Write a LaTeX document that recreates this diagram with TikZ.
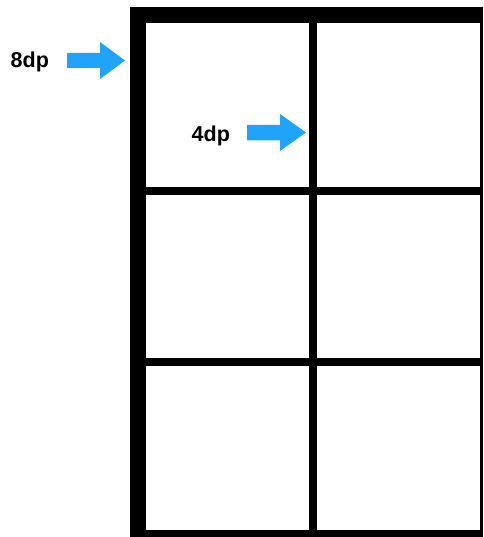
\documentclass[tikz,border=0pt]{standalone}
\usepackage{fontspec}
\setmainfont{Liberation Sans}
\definecolor{arrowblue}{HTML}{20A4FA}
\tikzset{
  cell/.style={fill=white, draw=none, inner sep=0pt, minimum width=163pt, minimum height=163.5pt, anchor=north west},
  lbl/.style={font=\fontsize{21.5}{24}\selectfont\bfseries, inner sep=0pt, anchor=base west},
  fatarrow/.style={fill=arrowblue, draw=none}
}
\begin{document}
\begin{tikzpicture}[x=1pt,y=-1pt]
\useasboundingbox (0,0) rectangle (483,537);
% black grid background (clipped on right and bottom)
\fill[black] (130,7) rectangle (483,537);
% cells
\node[cell] (c11) at (146,23) {};
\node[cell] (c12) at (317,23) {};
\node[cell] (c21) at (146,194.5) {};
\node[cell] (c22) at (317,194.5) {};
\node[cell] (c31) at (146,366) {};
\node[cell] (c32) at (317,366) {};
% labels
\node[lbl] (l8) at (10.5,67.7) {8dp};
\node[lbl] (l4) at (191.5,141.7) {4dp};
% arrows
\fill[fatarrow] (67,53) -- (100,53) -- (100,42) -- (125,60.5) -- (100,79) -- (100,68) -- (67,68) -- cycle;
\fill[fatarrow] (247,125) -- (280,125) -- (280,114) -- (306,132.5) -- (280,151) -- (280,140.5) -- (247,140.5) -- cycle;
\end{tikzpicture}
\end{document}
